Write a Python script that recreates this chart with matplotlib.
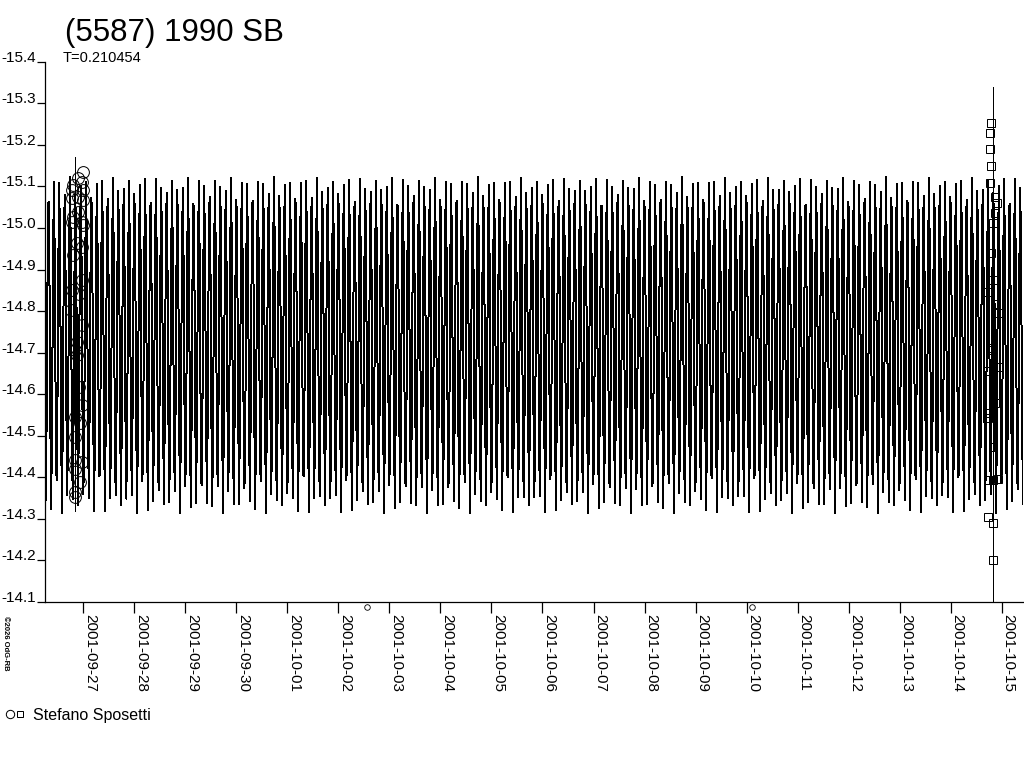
import numpy as np
import matplotlib
matplotlib.use("Agg")
import matplotlib.pyplot as plt
from matplotlib.lines import Line2D

plt.rcParams['font.family'] = ['Liberation Sans', 'DejaVu Sans']
plt.rcParams['axes.unicode_minus'] = False

# ---------------- data ----------------
title = "(5587) 1990 SB"
period_days = 0.210454
period_label = "T=0.210454"
observer = "Stefano Sposetti"
copyright_note = "©2026 OdG-RB"

# x in days since 2001-09-27 00:00 UT
x_min_day, x_max_day = -0.751, 18.418
date_tick_days = list(range(0, 19))
date_tick_labels = ["2001-09-27", "2001-09-28", "2001-09-29", "2001-09-30",
                    "2001-10-01", "2001-10-02", "2001-10-03", "2001-10-04",
                    "2001-10-05", "2001-10-06", "2001-10-07", "2001-10-08",
                    "2001-10-09", "2001-10-10", "2001-10-11", "2001-10-12",
                    "2001-10-13", "2001-10-14", "2001-10-15"]

mag_ticks = [-15.4, -15.3, -15.2, -15.1, -15.0, -14.9, -14.8, -14.7,
             -14.6, -14.5, -14.4, -14.3, -14.2, -14.1]
mag_tick_labels = ["-15.4", "-15.3", "-15.2", "-15.1", "-15.0", "-14.9", "-14.8",
                   "-14.7", "-14.6", "-14.5", "-14.4", "-14.3", "-14.2", "-14.1"]

# Fourier model of the lightcurve (mean, cos / sin coefficients for harmonics 1..4)
fourier_mean = -14.73
fourier_cos = [0.010, 0.395, 0.000, 0.010]
fourier_sin = [0.005, 0.040, 0.000, 0.000]

# session 1 (circles)
circ_day = [0.000, -0.098, -0.196, -0.227, -0.031, 0.000, -0.227, -0.098, 0.000,
            -0.098, -0.196, -0.227, -0.031, 0.000, -0.129, -0.031, -0.196, -0.031,
            -0.227, -0.078, -0.247, -0.031, -0.129, -0.163, -0.129, -0.078, -0.031,
            -0.163, -0.065, -0.163, -0.163, -0.031, -0.163, -0.065, -0.163, -0.163]
circ_mag = [-15.135, -15.119, -15.103, -15.091, -15.111, -15.091, -15.071, -15.075,
            -15.067, -15.039, -15.027, -15.015, -15.015, -15.007, -14.963, -14.955,
            -14.935, -14.874, -14.850, -14.842, -14.802, -14.766, -14.726, -14.706,
            -14.694, -14.618, -14.574, -14.545, -14.530, -14.497, -14.441, -14.437,
            -14.421, -14.389, -14.365, -14.353]

# session 2 (squares)
sq_day = [17.785, 17.771, 17.771, 17.785, 17.771, 17.869, 17.903, 17.869, 17.836,
          17.785, 17.836, 17.738, 17.869, 17.934, 17.771, 17.836, 17.934, 17.738,
          17.869, 17.771, 17.738, 17.836, 17.738, 17.836, 17.934, 17.738, 17.836,
          17.836]
sq_mag = [-15.252, -15.229, -15.189, -15.149, -15.109, -15.075, -15.060, -15.036,
          -15.012, -14.939, -14.874, -14.846, -14.818, -14.796, -14.710, -14.706,
          -14.666, -14.655, -14.578, -14.554, -14.543, -14.473, -14.393, -14.393,
          -14.395, -14.305, -14.289, -14.200]

# vertical model strokes at the observing sessions
stroke_day = [-0.163, 17.836]
stroke_top = [-15.17, -15.34]
stroke_bottom = [-14.32, -14.10]

# small markers under the time axis
note_day = [5.56, 13.1]
note_mag = [-14.088, -14.088]

# ---------------- figure ----------------
W, H = 1024, 768
PX = 0.72  # one pixel in points at 100 dpi
fig = plt.figure(figsize=(W / 100, H / 100), dpi=100)
fig.patch.set_facecolor('white')

ax_left, ax_right, ax_top, ax_bottom = 45, 1023, 61.7, 602
ax = fig.add_axes([ax_left / W, 1 - ax_bottom / H,
                   (ax_right - ax_left) / W, (ax_bottom - ax_top) / H])
ax.set_facecolor('white')

# model curve, one sample per pixel column (as in the original plot)
n_samples = int(ax_right - ax_left) + 1
t = np.linspace(x_min_day, x_max_day, n_samples)
model = np.full_like(t, fourier_mean)
for k, (a, b) in enumerate(zip(fourier_cos, fourier_sin), start=1):
    w = 2 * np.pi * k / period_days
    model += a * np.cos(w * t) + b * np.sin(w * t)
ax.plot(t, model, color='black', lw=PX, antialiased=False)

ax.vlines(stroke_day, stroke_top, stroke_bottom, color='black', lw=PX,
          antialiased=False)

ax.plot(circ_day, circ_mag, linestyle='none', marker='o', markersize=8.5,
        markerfacecolor='none', markeredgecolor='black', markeredgewidth=PX)
ax.plot(sq_day, sq_mag, linestyle='none', marker='s', markersize=5.8,
        markerfacecolor='none', markeredgecolor='black', markeredgewidth=PX)
ax.plot(note_day, note_mag, linestyle='none', marker='o', markersize=4,
        markerfacecolor='none', markeredgecolor='black', markeredgewidth=0.6,
        clip_on=False)

ax.set_xlim(x_min_day, x_max_day)
ax.set_ylim(-14.1, -15.4)

for s in ['top', 'right']:
    ax.spines[s].set_visible(False)
for s in ['left', 'bottom']:
    ax.spines[s].set_linewidth(0.9)
    ax.spines[s].set_color('black')

ax.set_yticks(mag_ticks)
ax.set_yticklabels(mag_tick_labels, fontsize=11)
ax.tick_params(axis='y', direction='out', length=5.8, width=0.9, pad=0.5,
               colors='black')
for lab in ax.get_yticklabels():
    lab.set_va('baseline')

ax.set_xticks(date_tick_days)
ax.set_xticklabels(date_tick_labels, fontsize=11)
ax.tick_params(axis='x', direction='out', length=8.2, width=0.9, pad=0.8,
               colors='black')
for lab in ax.get_xticklabels():
    lab.set_rotation(270)
    lab.set_rotation_mode('anchor')
    lab.set_ha('left')
    lab.set_va('bottom')

# titles
fig.text(65 / W, 1 - 41 / H, title, fontsize=22.5, va='baseline', ha='left')
fig.text(63 / W, 1 - 62 / H, period_label, fontsize=10.5, va='baseline', ha='left')

# legend
fig.add_artist(Line2D([10 / W], [1 - 714 / H], transform=fig.transFigure,
                      marker='o', markersize=6, markerfacecolor='none',
                      markeredgecolor='black', markeredgewidth=PX))
fig.add_artist(Line2D([20 / W], [1 - 714 / H], transform=fig.transFigure,
                      marker='s', markersize=4.8, markerfacecolor='none',
                      markeredgecolor='black', markeredgewidth=PX))
fig.text(33 / W, 1 - 720 / H, observer, fontsize=11.5, va='baseline', ha='left')

# copyright
fig.text(5 / W, 1 - 643 / H, copyright_note, rotation=270, fontsize=5.5,
         weight='bold', va='center', ha='center')

fig.savefig('out.png', dpi=100, facecolor='white')
